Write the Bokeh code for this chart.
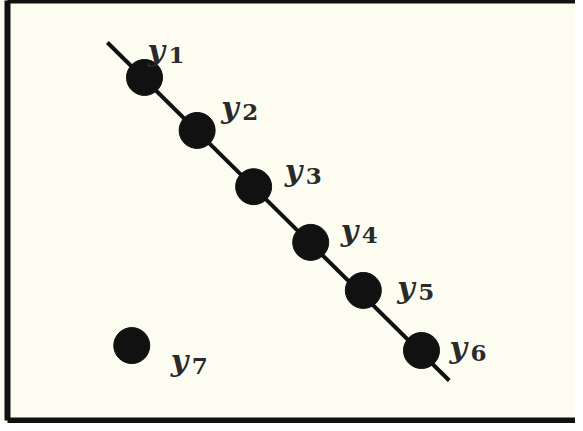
from bokeh.plotting import figure
from bokeh.models import ColumnDataSource, LinearAxis, FixedTicker, Range1d
from bokeh.core.properties import value
from bokeh.embed import file_html
from bokeh.resources import INLINE

# data
names = ["1", "2", "3", "4", "5", "6", "7"]
xs = [1.0, 1.95, 2.97, 4.0, 4.95, 6.0, 0.77]
ys = [6.0, 5.03, 4.0, 2.98, 2.1, 1.0, 1.09]
line_x = [0.33, 6.5]
line_y = [6.64, 0.45]

# label offsets (screen px, relative to point)
lab_dx = [3, 24, 31, 30, 34, 28, 39]
lab_dy = [-27, -23, -16, -12, -3, -3, 15]

BG = "#fcfcf0"
INK = "#111111"
TXT = "#2a2a2a"

p = figure(width=575, height=423, output_backend="svg", toolbar_location=None,
           x_range=Range1d(-1.473, 8.78), y_range=Range1d(-0.282, 7.41),
           background_fill_color=BG, border_fill_color=BG,
           min_border_left=7, min_border_right=0, min_border_top=0, min_border_bottom=3,
           x_axis_location="below", y_axis_location="left")
p.grid.visible = False
p.outline_line_color = None
p.add_layout(LinearAxis(), "above")

for ax in p.axis:
    ax.ticker = FixedTicker(ticks=[])
    ax.axis_line_width = 6
    ax.axis_line_color = INK
    ax.major_tick_line_color = None
    ax.minor_tick_line_color = None
    ax.major_tick_out = 0
    ax.major_tick_in = 0
    ax.minor_tick_out = 0
    ax.minor_tick_in = 0
    ax.major_label_text_font_size = "0px"
    ax.major_label_standoff = 0

p.line(line_x, line_y, line_width=4, line_color=INK)

src = ColumnDataSource(dict(
    x=xs, y=ys, name=names, yl=["y"] * len(names),
    dx=lab_dx, dy=lab_dy,
    ndx=[d + 21 for d in lab_dx], ndy=[d + 5 for d in lab_dy],
))
p.scatter("x", "y", source=src, size=36, fill_color=INK, line_color=INK)

p.text("x", "y", text="yl", source=src, x_offset="dx", y_offset="dy",
       text_font=value("DejaVu Serif"), text_font_style="bold italic",
       text_font_size="30px", text_color=TXT,
       text_align="left", text_baseline="alphabetic")
p.text("x", "y", text="name", source=src, x_offset="ndx", y_offset="ndy",
       text_font=value("DejaVu Serif"), text_font_style="bold",
       text_font_size="23px", text_color=TXT,
       text_align="left", text_baseline="alphabetic")

open("out.html", "w").write(file_html(p, INLINE))
